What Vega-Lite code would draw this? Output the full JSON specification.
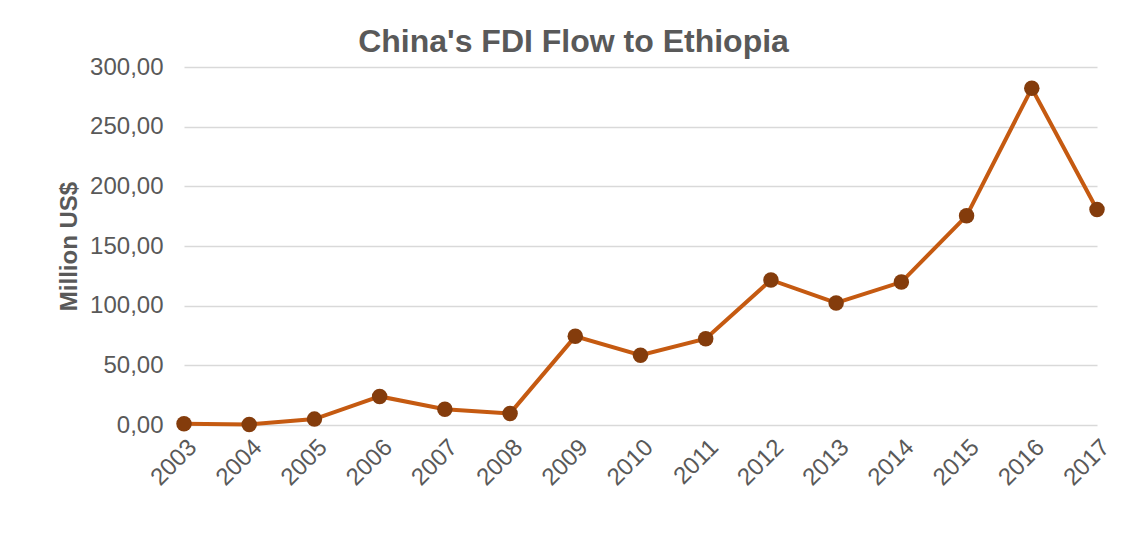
{
  "$schema": "https://vega.github.io/schema/vega-lite/v6.json",
  "autosize": "none",
  "width": 913,
  "height": 358,
  "padding": {"left": 184, "top": 67, "right": 40, "bottom": 110},
  "background": "white",
  "title": {
    "text": "China's FDI Flow to Ethiopia",
    "font": "Liberation Sans",
    "fontSize": 32,
    "fontWeight": "bold",
    "color": "#595959",
    "anchor": "middle",
    "dx": -67,
    "baseline": "alphabetic",
    "offset": 12,
    "dy": 41
  },
  "data": {
    "values": [
      {"year": "2003", "fdi": 0.98},
      {"year": "2004", "fdi": 0.43},
      {"year": "2005", "fdi": 4.93},
      {"year": "2006", "fdi": 23.95},
      {"year": "2007", "fdi": 13.27},
      {"year": "2008", "fdi": 9.71},
      {"year": "2009", "fdi": 74.29},
      {"year": "2010", "fdi": 58.53},
      {"year": "2011", "fdi": 72.3},
      {"year": "2012", "fdi": 121.56},
      {"year": "2013", "fdi": 102.28},
      {"year": "2014", "fdi": 119.77},
      {"year": "2015", "fdi": 175.29},
      {"year": "2016", "fdi": 282.16},
      {"year": "2017", "fdi": 180.63}
    ]
  },
  "encoding": {
    "x": {
      "field": "year",
      "type": "ordinal",
      "scale": {"type": "point", "padding": 0},
      "axis": {
        "title": null,
        "labelAngle": -45,
        "labelFontSize": 24,
        "labelFont": "Liberation Sans",
        "labelColor": "#595959",
        "labelPadding": 10,
        "ticks": false,
        "domain": false,
        "grid": false
      }
    },
    "y": {
      "field": "fdi",
      "type": "quantitative",
      "scale": {"domain": [0, 300], "nice": false},
      "axis": {
        "title": "Million US$",
        "titleFont": "Liberation Sans",
        "titleFontSize": 24,
        "titleFontWeight": "bold",
        "titleColor": "#595959",
        "titlePadding": 8,
        "values": [0, 50, 100, 150, 200, 250, 300],
        "labelExpr": "replace(format(datum.value, '.2f'), '.', ',')",
        "labelFontSize": 24,
        "labelFont": "Liberation Sans",
        "labelColor": "#595959",
        "labelPadding": 21,
        "ticks": false,
        "domain": false,
        "grid": true,
        "gridColor": "#D9D9D9",
        "gridWidth": 1.5
      }
    }
  },
  "layer": [
    {"mark": {"type": "line", "color": "#C55A11", "strokeWidth": 4}},
    {"mark": {"type": "point", "filled": true, "color": "#843C0C", "opacity": 1, "size": 240}}
  ],
  "config": {"view": {"stroke": null}}
}
